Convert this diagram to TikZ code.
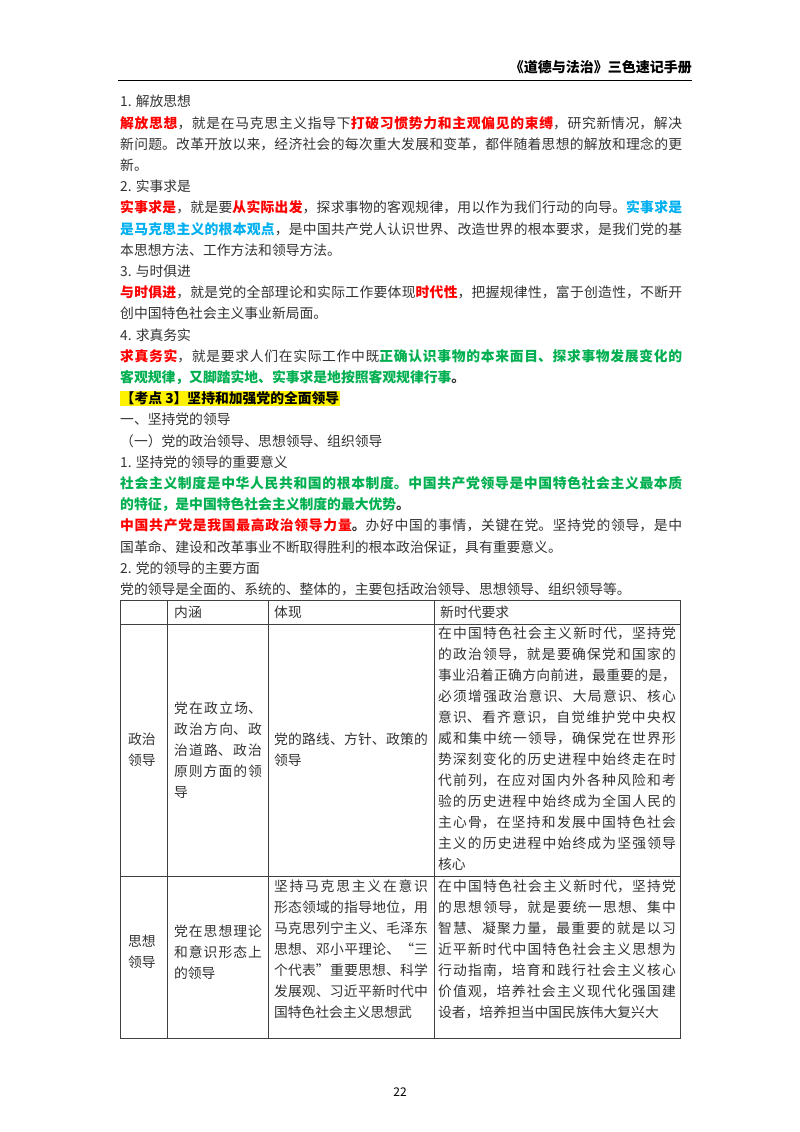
\documentclass[tikz,border=0pt]{standalone}
\usepackage{fontspec}
\setmainfont{Noto Sans CJK SC}
\XeTeXlinebreaklocale "zh"
\XeTeXlinebreakskip = 0pt plus 1pt
\usepackage{tikz}
\usetikzlibrary{positioning}

\definecolor{keyred}{RGB}{255,0,0}
\definecolor{keyblue}{RGB}{0,176,240}
\definecolor{keygreen}{RGB}{0,176,80}
\newcommand{\rd}[1]{\textbf{\textcolor{keyred}{#1}}}
\newcommand{\bl}[1]{\textbf{\textcolor{keyblue}{#1}}}
\newcommand{\gr}[1]{\textbf{\textcolor{keygreen}{#1}}}

\tikzset{
  body/.style={anchor=north west, inner sep=0pt, text width=562pt, align=justify,
    font=\fontsize{13.8}{21.2}\selectfont, text=black!80},
  cell/.style={inner sep=0pt, align=justify, font=\fontsize{13.8}{21}\selectfont, text=black!80},
  grid/.style={line width=0.8pt, black!75}
}

\begin{document}
\begin{tikzpicture}[x=1pt, y=-1pt]
			\fill[white] (0,0) rectangle (800,1132);
			\useasboundingbox (0,0) rectangle (800,1132);

			% running head
			\node[anchor=base east, inner sep=0pt, font=\fontsize{14}{18}\selectfont\bfseries] (head) at (692,73) {《道德与法治》三色速记手册};
			\coordinate (ruleL) at (118,80);
			\coordinate (ruleR) at (692,80);
			\draw[line width=0.6pt] (ruleL) -- (ruleR);

			% text
			\node[body] (text) at (120,95) {%
				1. 解放思想\newline
				\rd{解放思想}，就是在马克思主义指导下\rd{打破习惯势力和主观偏见的束缚}，研究新情况，解决\linebreak
				新问题。改革开放以来，经济社会的每次重大发展和变革，都伴随着思想的解放和理念的更\linebreak
				新。\newline
				2. 实事求是\newline
				\rd{实事求是}，就是要\rd{从实际出发}，探求事物的客观规律，用以作为我们行动的向导。\bl{实事求是}\linebreak
				\bl{是马克思主义的根本观点}，是中国共产党人认识世界、改造世界的根本要求，是我们党的基\linebreak
				本思想方法、工作方法和领导方法。\newline
				3. 与时俱进\newline
				\rd{与时俱进}，就是党的全部理论和实际工作要体现\rd{时代性}，把握规律性，富于创造性，不断开\linebreak
				创中国特色社会主义事业新局面。\newline
				4. 求真务实\newline
				\rd{求真务实}，就是要求人们在实际工作中既\gr{正确认识事物的本来面目、探求事物发展变化的}\linebreak
				\gr{客观规律，又脚踏实地、实事求是地按照客观规律行事}\textbf{。}\newline
				{\setlength{\fboxsep}{0.5pt}\colorbox{yellow}{\textbf{\textcolor{black}{【考点 3】坚持和加强党的全面领导}}}}\newline
				一、坚持党的领导\newline
				（一）党的政治领导、思想领导、组织领导\newline
				1. 坚持党的领导的重要意义\newline
				\gr{社会主义制度是中华人民共和国的根本制度。中国共产党领导是中国特色社会主义最本质}\linebreak
				\gr{的特征，是中国特色社会主义制度的最大优势}\textbf{。}\newline
				\rd{中国共产党是我国最高政治领导力量}\textbf{。}办好中国的事情，关键在党。坚持党的领导，是中\linebreak
				国革命、建设和改革事业不断取得胜利的根本政治保证，具有重要意义。\newline
				2. 党的领导的主要方面\newline
				党的领导是全面的、系统的、整体的，主要包括政治领导、思想领导、组织领导等。};

			% table
			\coordinate (tNW) at (120,600);
			\coordinate (tSE) at (680,1038);
			\draw[grid] (tNW) rectangle (tSE);
			\draw[grid] (120,624) -- (680,624);
			\draw[grid] (120,876) -- (680,876);
			\foreach \cx in {167,268,434}
				\draw[grid] (\cx,600) -- (\cx,1038);

			\node[cell, anchor=west] (hA) at (174,612) {内涵};
			\node[cell, anchor=west] (hB) at (274,612) {体现};
			\node[cell, anchor=west] (hC) at (440,612) {新时代要求};

			\node[cell, text width=30pt] (polA) at (143,750) {政治\newline 领导};
			\node[cell, text width=88pt] (polB) at (218,750) {党在政立场、\linebreak 政治方向、政\linebreak 治道路、政治\linebreak 原则方面的领\linebreak 导};
			\node[cell, text width=154pt] (polC) at (351,750) {党的路线、方针、政策的\linebreak 领导};
			\node[cell, text width=238pt, anchor=north] (polD) at (557,627) {%
				在中国特色社会主义新时代，坚持党\linebreak
				的政治领导，就是要确保党和国家的\linebreak
				事业沿着正确方向前进，最重要的是，\linebreak
				必须增强政治意识、大局意识、核心\linebreak
				意识、看齐意识，自觉维护党中央权\linebreak
				威和集中统一领导，确保党在世界形\linebreak
				势深刻变化的历史进程中始终走在时\linebreak
				代前列，在应对国内外各种风险和考\linebreak
				验的历史进程中始终成为全国人民的\linebreak
				主心骨，在坚持和发展中国特色社会\linebreak
				主义的历史进程中始终成为坚强领导\linebreak
				核心};

			\node[cell, text width=30pt] (thoA) at (143,952) {思想\newline 领导};
			\node[cell, text width=88pt] (thoB) at (218,952) {党在思想理论\linebreak 和意识形态上\linebreak 的领导};
			\node[cell, text width=154pt, anchor=north] (thoC) at (351,880) {%
				坚持马克思主义在意识\linebreak
				形态领域的指导地位，用\linebreak
				马克思列宁主义、毛泽东\linebreak
				思想、邓小平理论、“三\linebreak
				个代表”重要思想、科学\linebreak
				发展观、习近平新时代中\linebreak
				国特色社会主义思想武};
			\node[cell, text width=238pt, anchor=north] (thoD) at (557,880) {%
				在中国特色社会主义新时代，坚持党\linebreak
				的思想领导，就是要统一思想、集中\linebreak
				智慧、凝聚力量，最重要的就是以习\linebreak
				近平新时代中国特色社会主义思想为\linebreak
				行动指南，培育和践行社会主义核心\linebreak
				价值观，培养社会主义现代化强国建\linebreak
				设者，培养担当中国民族伟大复兴大};

			% folio
			\node[font=\fontsize{12}{14}\selectfont] (folio) at (400,1092) {22};
\end{tikzpicture}
\end{document}
